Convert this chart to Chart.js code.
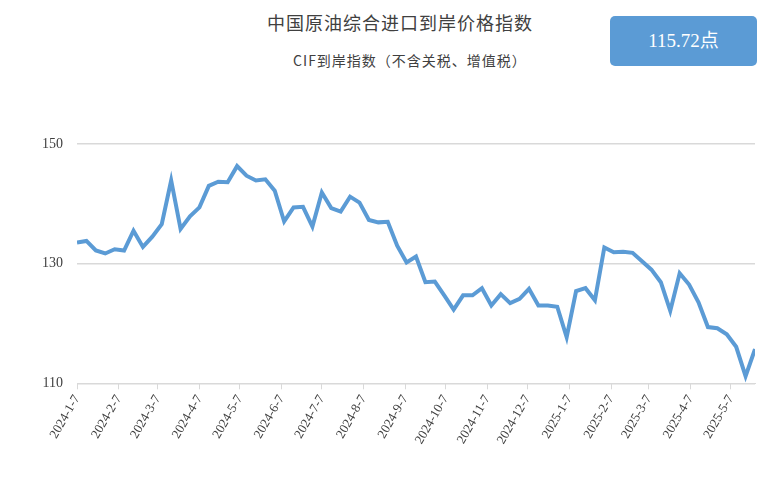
<!DOCTYPE html>
<html><head><meta charset="utf-8">
<script src="https://cdn.jsdelivr.net/npm/chart.js@4"></script>
<style>
body{margin:0;background:#fff;font-family:"Noto Sans CJK SC",serif;}
#wrap{position:relative;width:784px;height:488px;}
#t1{position:absolute;left:0;width:800px;top:9px;text-align:center;font-size:18px;color:#404040;letter-spacing:1px;}
#t2{position:absolute;left:0;width:820px;top:50px;text-align:center;font-size:14px;color:#404040;letter-spacing:1px;}
#box{position:absolute;left:610px;top:16px;width:147px;height:50px;background:#5b9bd5;border-radius:5px;color:#fff;font-size:19px;line-height:50px;text-align:center;font-family:"Liberation Serif","Noto Sans CJK SC",serif;}
canvas{position:absolute;left:0;top:0;}
</style></head><body>
<div id="wrap">
<div id="t1">中国原油综合进口到岸价格指数</div>
<div id="t2">CIF到岸指数（不含关税、增值税）</div>
<div id="box">115.72点</div>
<canvas id="c" width="784" height="488"></canvas>
</div>
<script>
const tickDates = ["2024-1-7","2024-2-7","2024-3-7","2024-4-7","2024-5-7","2024-6-7","2024-7-7","2024-8-7","2024-9-7","2024-10-7","2024-11-7","2024-12-7","2025-1-7","2025-2-7","2025-3-7","2025-4-7","2025-5-7"];
const values = [133.55,133.8,132.2,131.7,132.4,132.2,135.5,132.8,134.5,136.6,143.9,135.8,137.9,139.4,143.0,143.7,143.6,146.3,144.7,143.9,144.1,142.2,137.05,139.4,139.5,136.2,141.9,139.3,138.7,141.2,140.2,137.3,136.9,137.0,133.0,130.2,131.2,126.9,127.0,124.7,122.3,124.7,124.7,125.9,123.0,124.9,123.4,124.1,125.8,123.0,123.0,122.8,117.7,125.4,125.9,123.9,132.7,131.9,132.0,131.8,130.4,129.0,126.9,122.1,128.4,126.5,123.55,119.4,119.2,118.2,116.1,111.2,115.72];
const yTicks = [110,130,150];
const DAY = 86400000;
const t0 = Date.UTC(2024,0,7);
function dayOf(s){const p=s.split('-').map(Number);return (Date.UTC(p[0],p[1]-1,p[2])-t0)/DAY;}
const tickDays = tickDates.map(dayOf);
const pts = values.map((v,i)=>({x:i*7,y:v}));
new Chart(document.getElementById('c'),{
 type:'line',
 data:{datasets:[{data:pts,borderColor:'#5b9bd5',borderWidth:4,pointRadius:0,tension:0,fill:false}]},
 options:{responsive:false,animation:false,
  layout:{padding:{top:144,left:28,right:29,bottom:38}},
  plugins:{legend:{display:false},tooltip:{enabled:false}},
  scales:{
   x:{type:'linear',min:0,max:504,
    afterBuildTicks:a=>{a.ticks=tickDays.map(v=>({value:v}));},
    ticks:{autoSkip:false,minRotation:60,maxRotation:60,color:'#404040',font:{size:13,family:'"Liberation Serif",serif'},
     callback:(v)=>{const i=tickDays.indexOf(v);return i>=0?tickDates[i]:'';}},
    grid:{drawOnChartArea:false,color:'#d9d9d9',tickLength:6},
    border:{color:'#d9d9d9'}},
   y:{min:110,max:150,
    afterBuildTicks:a=>{a.ticks=yTicks.map(v=>({value:v}));},
    ticks:{color:'#404040',font:{size:14,family:'"Liberation Serif",serif'},padding:14},
    grid:{color:'#d9d9d9',drawTicks:false,lineWidth:1.5},
    border:{display:false}}
  }}
});
</script>
</body></html>
